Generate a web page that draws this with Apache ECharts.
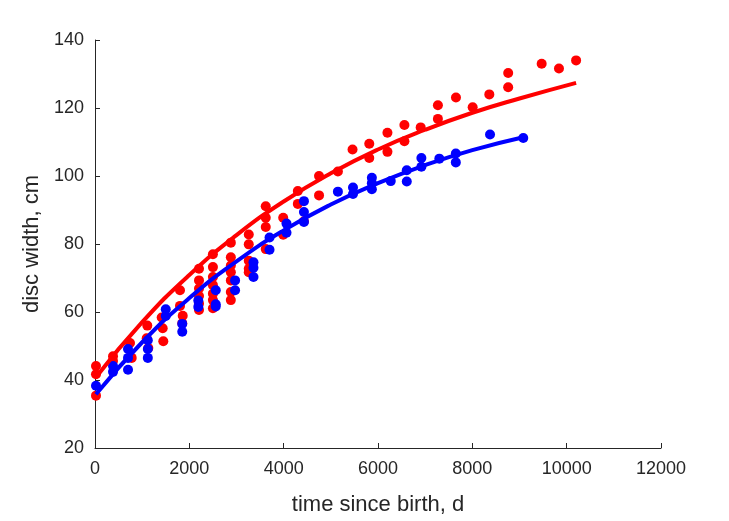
<!DOCTYPE html>
<html>
<head>
<meta charset="utf-8">
<script src="https://cdn.jsdelivr.net/npm/echarts@6/dist/echarts.min.js"></script>
<style>
html,body{margin:0;padding:0;background:#fff;}
#chart{width:729px;height:521px;}
</style>
</head>
<body>
<div id="chart"></div>
<script>
// Observed points: red group
const redX = [21,21,21, 382,382, 742,778, 1109,1096,1130, 1414,1435,1448,
  1802,1802,1860,1850, 2205,2205,2205,2205,2205,2205,
  2500,2500,2500,2500,2500,2500,2500,
  2880,2880,2880,2880,2880,2880,2880,
  3260,3260,3260,3260,3260,
  3620,3620,3620,3620, 3990,3990, 4300,4300, 4430,
  4750,4750, 5150, 5460, 5815,5815, 6200,6200, 6560,6560, 6905,
  7270,7270, 7653, 8007, 8360, 8760,8760, 9470, 9837, 10200];
const redY = [44.1,41.7,35.4, 47.0,45.6, 50.9,46.5, 56.0,52.3,49.4, 58.4,55.2,51.4,
  66.4,61.8,58.9,56.7, 72.7,69.3,66.9,64.7,62.5,60.6,
  77.0,73.2,70.3,67.9,65.4,63.5,61.1,
  80.4,76.1,73.7,71.7,69.3,65.9,63.5,
  82.8,79.9,75.1,72.7,71.7,
  91.1,87.7,85.0,78.5, 87.7,82.7, 95.6,91.8, 86.7,
  100.0,94.3, 101.3, 107.8, 109.5,105.3, 112.7,107.1, 115.0,110.2, 114.3,
  120.8,116.8, 123.1, 120.2, 124.0, 130.3,126.1, 133.0, 131.6, 134.0];

// Observed points: blue group
const blueX = [21, 382,382, 700,700,700, 1120,1120,1120, 1500,1500, 1850,1850,
  2190,2190, 2560,2560,2560, 2970,2970, 3360,3360,3360, 3700,3700,
  4060,4060, 4430,4430,4430, 5150, 5470,5470, 5870,5870,5870, 6270,
  6610,6610, 6920,6920, 7300, 7650,7650, 8375, 9080];
const blueY = [38.3, 44.1,42.4, 49.1,46.5,43.0, 51.7,49.1,46.5, 60.8,58.8, 56.5,54.2,
  63.4,61.5, 66.4,62.3,61.6, 69.3,66.4, 74.6,73.0,70.3, 81.9,78.3,
  86.0,83.3, 92.6,89.4,86.5, 95.4, 96.6,94.7, 99.5,97.9,96.1, 98.5,
  101.7,98.4, 105.3,102.7, 105.1, 106.6,104.0, 112.2, 111.2];

// Fitted curves
const redCurveX = [20, 1000, 2000, 3000, 4000, 5000, 6000, 7000, 8000, 9000, 10200];
const redCurveY = [40.8, 57.0, 70.9, 82.6, 92.5, 100.8, 107.8, 113.6, 118.6, 122.8, 127.4];
const blueCurveX = [20, 1000, 2000, 3000, 4000, 5000, 6000, 7000, 8000, 9080];
const blueCurveY = [35.8, 51.1, 64.1, 74.9, 84.0, 91.6, 97.9, 103.2, 107.6, 111.4];

const xTicks = [0, 2000, 4000, 6000, 8000, 10000, 12000];
const yTicks = [20, 40, 60, 80, 100, 120, 140];

const zip = (a, b) => a.map((v, i) => [v, b[i]]);
const axisColor = '#262626';
const font = 'Liberation Sans, Arial, Helvetica, sans-serif';

const chart = echarts.init(document.getElementById('chart'), null, {renderer: 'canvas'});
chart.setOption({
  animation: false,
  backgroundColor: '#ffffff',
  grid: {left: 95, right: 68, top: 40, bottom: 68},
  xAxis: {
    type: 'value',
    min: xTicks[0], max: xTicks[xTicks.length - 1], interval: 2000,
    name: 'time since birth, d',
    nameLocation: 'middle', nameGap: 46,
    nameTextStyle: {color: axisColor, fontSize: 22, fontFamily: font},
    axisLine: {show: true, onZero: false, lineStyle: {color: axisColor, width: 1}},
    axisTick: {show: true, inside: true, length: 5, lineStyle: {color: axisColor}},
    axisLabel: {color: axisColor, fontSize: 18, fontFamily: font, margin: 12,
      formatter: v => String(v)},
    splitLine: {show: false}
  },
  yAxis: {
    type: 'value',
    min: yTicks[0], max: yTicks[yTicks.length - 1], interval: 20,
    name: 'disc width, cm',
    nameLocation: 'middle', nameGap: 46,
    nameTextStyle: {color: axisColor, fontSize: 22, fontFamily: font},
    axisLine: {show: true, onZero: false, lineStyle: {color: axisColor, width: 1}},
    axisTick: {show: true, inside: true, length: 5, lineStyle: {color: axisColor}},
    axisLabel: {color: axisColor, fontSize: 18, fontFamily: font, margin: 11,
      formatter: v => String(v)},
    splitLine: {show: false}
  },
  series: [
    {type: 'scatter', data: zip(redX, redY), symbol: 'circle', symbolSize: 10,
     itemStyle: {color: '#ff0000', opacity: 1}, z: 2},
    {type: 'scatter', data: zip(blueX, blueY), symbol: 'circle', symbolSize: 10,
     itemStyle: {color: '#0000ff', opacity: 1}, z: 3},
    {type: 'line', data: zip(redCurveX, redCurveY), smooth: true, showSymbol: false,
     lineStyle: {color: '#ff0000', width: 4}, itemStyle: {color: '#ff0000'}, z: 4},
    {type: 'line', data: zip(blueCurveX, blueCurveY), smooth: true, showSymbol: false,
     lineStyle: {color: '#0000ff', width: 4}, itemStyle: {color: '#0000ff'}, z: 5}
  ]
});
</script>
</body>
</html>
